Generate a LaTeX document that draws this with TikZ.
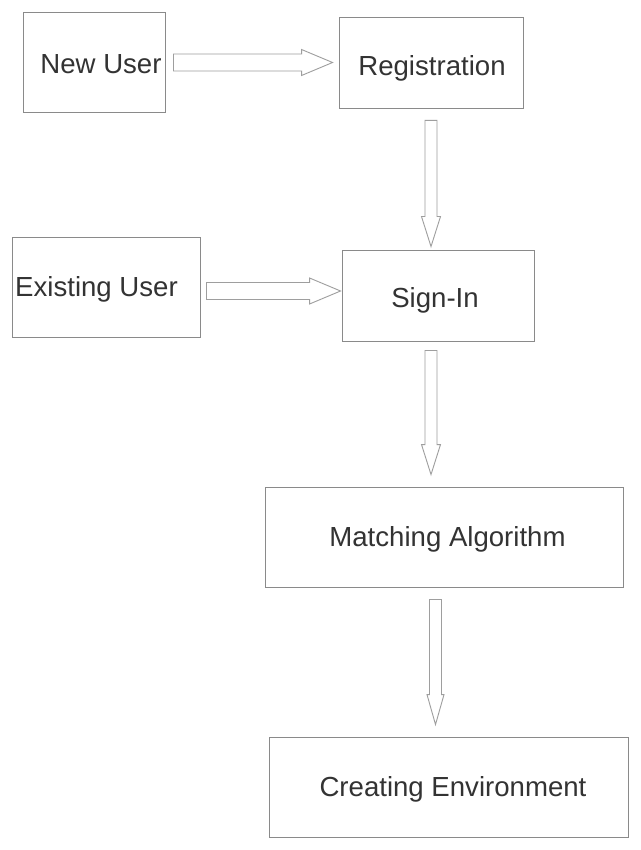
\documentclass[tikz,border=0pt]{standalone}
\usepackage{fontspec}
\setmainfont{Liberation Sans}
\usetikzlibrary{calc}
\definecolor{boxgray}{HTML}{8A8A8A}
\definecolor{arrgray}{HTML}{9E9E9E}
\definecolor{txtgray}{HTML}{333333}
\tikzset{
  box/.style={draw=boxgray, line width=0.9pt, rectangle, inner sep=0pt},
  lbl/.style={text=txtgray, font=\fontsize{27.6}{32}\selectfont, inner sep=0pt},
  blockarrow/.style={draw=arrgray, line width=0.9pt, fill=white, line join=miter}
}
% horizontal block arrow: #1 start, #2 tip (y taken from start)
\newcommand{\blkH}[2]{%
  \draw[blockarrow] let \p1=(#1), \p2=(#2) in
    (\x1,\y1+8.5pt) -- (\x2-31pt,\y1+8.5pt) -- (\x2-31pt,\y1+13pt) -- (\x2,\y1)
    -- (\x2-31pt,\y1-13pt) -- (\x2-31pt,\y1-8.5pt) -- (\x1,\y1-8.5pt) -- cycle;}
% vertical block arrow: #1 start, #2 tip (x taken from start)
\newcommand{\blkV}[3]{%
  \draw[blockarrow] let \p1=(#1), \p2=(#2) in
    (\x1-6pt,\y1) -- (\x1-6pt,\y2+30pt) -- (\x1-#3,\y2+30pt) -- (\x1,\y2)
    -- (\x1+#3,\y2+30pt) -- (\x1+6pt,\y2+30pt) -- (\x1+6pt,\y1) -- cycle;}
\begin{document}
\begin{tikzpicture}[x=1pt,y=-1pt]
\useasboundingbox (0,0) rectangle (640,850);
\fill[white] (0,0) rectangle (640,850);

% boxes
\node[box, minimum width=142pt, minimum height=100pt] (nu) at (94,62) {};
\node[box, minimum width=184pt, minimum height=91pt] (reg) at (431,62.5) {};
\node[box, minimum width=188pt, minimum height=100pt] (eu) at (106,287) {};
\node[box, minimum width=192pt, minimum height=91pt] (si) at (438,295.5) {};
\node[box, minimum width=358pt, minimum height=100pt] (ma) at (444,537) {};
\node[box, minimum width=359pt, minimum height=100pt] (ce) at (448.5,787) {};

% labels
\node[lbl] (tnu) at (101,64) {New User};
\node[lbl] (treg) at (432,68) {Registration};
\node[lbl] (teu) at (96.5,289) {Existing User};
\node[lbl] (tsi) at (435,300) {Sign-In};
\node[lbl] (tma) at (447.5,539) {Matching Algorithm};
\node[lbl] (tce) at (453,789) {Creating Environment};

% connector end points
\coordinate (a1s) at ($(nu.east)+(8,0.5)$);
\coordinate (a1t) at ($(reg.west)+(-6,0)$);
\coordinate (a2s) at ($(eu.east)+(6,4)$);
\coordinate (a2t) at ($(si.west)+(-1,0)$);
\coordinate (v1s) at ($(reg.south)+(0,12)$);
\coordinate (v1t) at ($(si.north)+(0,-3)$);
\coordinate (v2s) at ($(si.south)+(-7,9)$);
\coordinate (v2t) at ($(ma.north)+(0,-12)$);
\coordinate (v3s) at ($(ma.south)+(-8.5,12)$);
\coordinate (v3t) at ($(ce.north)+(0,-12)$);

\blkH{a1s}{a1t}
\blkH{a2s}{a2t}
\blkV{v1s}{v1t}{9.5pt}
\blkV{v2s}{v2t}{9.5pt}
\blkV{v3s}{v3t}{8.5pt}
\end{tikzpicture}
\end{document}
